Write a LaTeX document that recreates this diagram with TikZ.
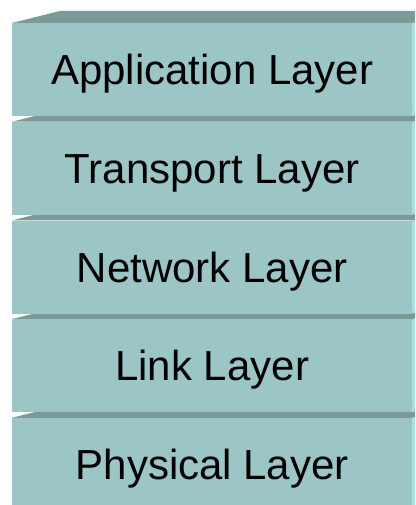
\documentclass[tikz,border=0pt]{standalone}
\usepackage{fontspec}
\setmainfont{Liberation Sans}
\definecolor{frontc}{HTML}{9CC5C5}
\definecolor{topc}{HTML}{7A9A98}
\definecolor{sidec}{HTML}{A8E0DE}
\begin{document}
\begin{tikzpicture}[x=1pt,y=-1pt,
  layer/.style={fill=frontc, draw=none, minimum width=400pt, minimum height=93pt,
    inner sep=0pt, anchor=north west, text=black, text height=30pt, text depth=0pt,
    font=\fontsize{42}{50}\selectfont},
  topface/.style={fill=topc},
  sideface/.style={fill=sidec}]
\useasboundingbox (0,0) rectangle (415,505);
\clip (0,0) rectangle (415,505);
\foreach \i/\txt in {5/Physical Layer,4/Link Layer,3/Network Layer,2/Transport Layer,1/Application Layer}{
  \pgfmathsetmacro\t{23+98.7*(\i-1)}
  \fill[sideface] (412,\t) -- (460,\t-12) -- (460,\t+81) -- (412,\t+93) -- cycle;
  \fill[topface] (12,\t) -- (60,\t-12) -- (460,\t-12) -- (412,\t) -- cycle;
  \node[layer] (l\i) at (12,\t) {\txt};
}
\end{tikzpicture}
\end{document}
